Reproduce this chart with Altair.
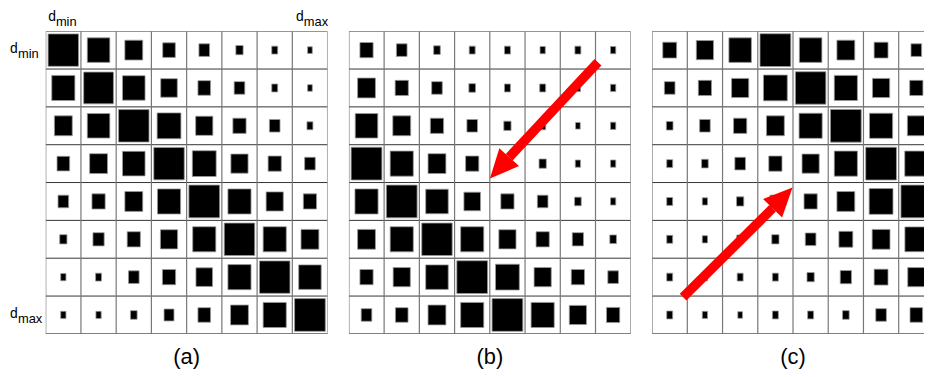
import altair as alt
import pandas as pd

ROWS = 8
COLS = 8

# square side lengths (px), row by row (top row first)
A_SIZES = [
    [30.7, 22.7, 18.0, 12.7, 10.7, 7.3, 6.0, 4.7],
    [23.3, 30.0, 22.7, 16.7, 12.7, 10.7, 6.0, 4.7],
    [18.0, 22.7, 30.7, 24.0, 17.3, 13.3, 10.7, 6.0],
    [12.7, 18.0, 22.7, 30.7, 24.0, 17.3, 13.3, 10.7],
    [10.7, 13.3, 18.0, 23.3, 31.0, 23.3, 17.3, 13.3],
    [7.3, 11.3, 13.3, 17.3, 23.3, 30.7, 23.3, 18.0],
    [5.3, 6.0, 10.7, 13.3, 16.7, 23.3, 30.7, 22.7],
    [5.3, 5.3, 6.7, 10.0, 12.7, 18.0, 23.3, 31.0],
]
B_SIZES = [
    [13.3, 10.7, 6.7, 6.0, 6.0, 5.3, 6.0, 5.3],
    [18.0, 13.3, 10.7, 6.7, 6.0, 6.0, 5.3, 5.3],
    [22.7, 18.0, 13.3, 10.7, 7.3, 6.0, 4.7, 5.3],
    [31.0, 23.3, 18.0, 13.3, 7.3, 7.3, 5.3, 5.3],
    [23.3, 31.0, 22.7, 16.7, 13.3, 10.7, 6.7, 5.3],
    [18.0, 23.3, 30.7, 23.3, 17.3, 13.3, 11.3, 6.7],
    [13.3, 17.3, 22.7, 31.0, 24.0, 17.3, 13.3, 10.7],
    [10.7, 12.7, 18.0, 23.3, 31.0, 23.3, 17.3, 13.3],
]
C_SIZES = [
    [14.0, 17.3, 22.7, 31.0, 22.7, 18.0, 14.0, 10.7],
    [10.7, 13.3, 17.3, 24.0, 30.7, 23.3, 17.3, 13.3],
    [6.7, 10.7, 13.3, 18.0, 23.3, 31.0, 23.3, 18.0],
    [6.0, 6.7, 10.7, 13.3, 17.3, 23.3, 31.0, 23.3],
    [6.0, 5.3, 7.3, 10.7, 13.3, 18.0, 24.0, 31.0],
    [6.0, 5.3, 6.7, 7.3, 10.7, 14.0, 18.0, 23.0],
    [6.0, 5.3, 6.0, 6.0, 7.3, 11.3, 14.0, 17.3],
    [6.0, 5.3, 4.7, 6.0, 6.0, 6.7, 10.7, 12.7],
]
CAPTIONS = ["(a)", "(b)", "(c)"]
AXIS_MAIN = "d"
AXIS_SUBS = ["min", "max"]

# arrows in grid units: tail (col,row) -> head base (col,row), heading in degrees
ARROW_B = {"tx": 7.07, "ty": 0.82, "bx": 4.55, "by": 3.33, "ang": 222}
ARROW_C = {"tx": 0.88, "ty": 7.03, "bx": 3.42, "by": 4.68, "ang": 44}

PANEL_W = 284
PANEL_H = 305
C_W = 274
CELL_W = PANEL_W / COLS
CELL_H = PANEL_H / ROWS
FONT = "Liberation Sans"
HEAD = "M0,-1L0.46,0L-0.46,0Z"


def cells(sizes):
    recs = []
    for r, row in enumerate(sizes):
        for c, w in enumerate(row):
            recs.append({"row": r, "col": c, "w": w})
    return pd.DataFrame(recs)


def grid_lines(n):
    v = pd.DataFrame({"p": list(range(n + 1)), "a": 0, "b": ROWS})
    h = pd.DataFrame({"p": list(range(ROWS + 1)), "a": 0, "b": COLS})
    return v, h


def panel(sizes, caption, width, xmax, arrow=None, labels=False):
    xs = alt.Scale(domain=[0, xmax], nice=False, zero=False)
    ys = alt.Scale(domain=[0, ROWS], nice=False, zero=False, reverse=True)
    df = cells(sizes)
    rects = alt.Chart(df).transform_calculate(
        x1=f"datum.col + 0.5 - datum.w / {2 * CELL_W}",
        x2=f"datum.col + 0.5 + datum.w / {2 * CELL_W}",
        y1=f"datum.row + 0.5 - (datum.w + 2) / {2 * CELL_H}",
        y2=f"datum.row + 0.5 + (datum.w + 2) / {2 * CELL_H}",
    ).mark_rect(color="black", stroke="#9a9a9a", strokeWidth=0.8, clip=True).encode(
        x=alt.X("x1:Q", scale=xs, axis=None),
        x2="x2:Q",
        y=alt.Y("y1:Q", scale=ys, axis=None),
        y2="y2:Q",
    )
    v, h = grid_lines(COLS)
    vlines = alt.Chart(v).mark_rule(color="#777777", strokeWidth=1.2, clip=True).encode(
        x=alt.X("p:Q", scale=xs, axis=None),
        y=alt.Y("a:Q", scale=ys, axis=None),
        y2="b:Q",
    )
    hlines = alt.Chart(h).mark_rule(color="#333333", strokeWidth=1, clip=True).encode(
        y=alt.Y("p:Q", scale=ys, axis=None),
        x=alt.X("a:Q", scale=xs, axis=None),
        x2="b:Q",
    )
    cap = alt.Chart(pd.DataFrame({"t": [caption], "x": [4], "y": [ROWS]})).mark_text(
        font=FONT, fontSize=22, align="center", baseline="alphabetic", dy=30, color="black"
    ).encode(
        x=alt.X("x:Q", scale=xs, axis=None),
        y=alt.Y("y:Q", scale=ys, axis=None),
        text="t:N",
    )
    layers = [hlines, vlines, rects, cap]
    if arrow is not None:
        adf = pd.DataFrame([arrow])
        shaft = alt.Chart(adf).mark_rule(color="#ff0000", strokeWidth=9.5, strokeCap="butt").encode(
            x=alt.X("tx:Q", scale=xs, axis=None),
            y=alt.Y("ty:Q", scale=ys, axis=None),
            x2="bx:Q",
            y2="by:Q",
        )
        head = alt.Chart(adf).mark_point(
            shape=HEAD, filled=True, color="#ff0000", opacity=1, size=3364, strokeWidth=0
        ).encode(
            x=alt.X("bx:Q", scale=xs, axis=None),
            y=alt.Y("by:Q", scale=ys, axis=None),
            angle=alt.Angle("ang:Q", scale=None),
        )
        layers += [shaft, head]
    if labels:
        def lab(x, y, sub, ddx, ddy, sdx, sdy, dalign):
            d = pd.DataFrame({"x": [x], "y": [y], "m": [AXIS_MAIN], "s": [sub]})
            main = alt.Chart(d).mark_text(
                font=FONT, fontSize=14, align=dalign, baseline="alphabetic",
                dx=ddx, dy=ddy, color="black"
            ).encode(
                x=alt.X("x:Q", scale=xs, axis=None),
                y=alt.Y("y:Q", scale=ys, axis=None),
                text="m:N",
            )
            subm = alt.Chart(d).mark_text(
                font=FONT, fontSize=13, align="left", baseline="alphabetic",
                dx=sdx, dy=sdy, color="black"
            ).encode(
                x=alt.X("x:Q", scale=xs, axis=None),
                y=alt.Y("y:Q", scale=ys, axis=None),
                text="s:N",
            )
            return [main, subm]
        layers += lab(0.5, 0, AXIS_SUBS[0], -7.5, -10.7, -7.5, -5.7, "right")
        layers += lab(7.5, 0, AXIS_SUBS[1], -6.2, -10.7, -6.2, -5.7, "right")
        layers += lab(0, 0.5, AXIS_SUBS[0], -36, 3, -28, 8, "left")
        layers += lab(0, 7.5, AXIS_SUBS[1], -36, 3, -28, 8, "left")
    return alt.layer(*layers).properties(width=width, height=PANEL_H)


pa = panel(A_SIZES, CAPTIONS[0], PANEL_W, COLS, labels=True)
pb = panel(B_SIZES, CAPTIONS[1], PANEL_W, COLS, arrow=ARROW_B)
pc = panel(C_SIZES, CAPTIONS[2], C_W, C_W / CELL_W, arrow=ARROW_C)

chart = alt.hconcat(pa, pb, pc, spacing=21.5, bounds="flush").properties(
    padding={"left": 2, "top": 0, "right": 0, "bottom": 0}
).configure_view(stroke=None)

chart.save("out.html", embed_options={"renderer": "svg", "actions": False})
